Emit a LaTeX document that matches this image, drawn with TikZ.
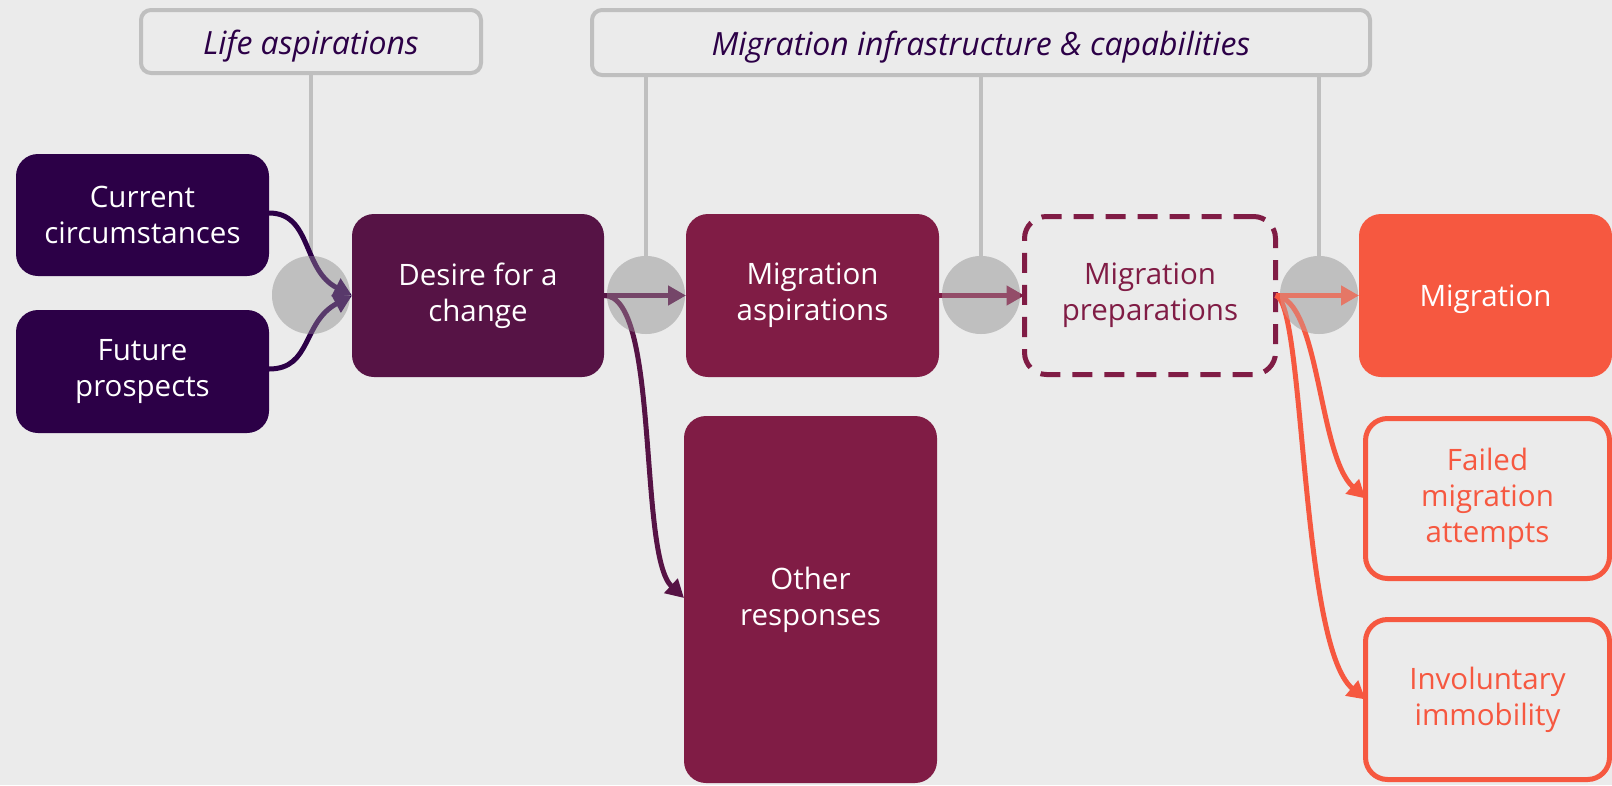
\documentclass[tikz,border=0pt]{standalone}
\usepackage{fontspec}
\setmainfont{Open Sans}
\usetikzlibrary{arrows.meta}
\definecolor{bg}{HTML}{EBEBEB}
\definecolor{ink}{HTML}{2C0047}
\definecolor{plum}{HTML}{561345}
\definecolor{wine}{HTML}{801C45}
\definecolor{coral}{HTML}{F65840}
\definecolor{grayc}{HTML}{BFBFBF}

\begin{document}
\begin{tikzpicture}[x=1pt, y=-1pt,
	box/.style={rounded corners=22pt, inner sep=0pt, outer sep=0pt, align=center,
		text=white, minimum width=253pt, minimum height=163pt,
		font=\fontsize{29.5}{36}\selectfont, execute at begin node={\rule{0pt}{30pt}}},
	head/.style={draw=grayc, line width=4pt, fill=bg, rounded corners=10pt, inner sep=0pt,
		outer sep=0pt, text=ink, font=\itshape\fontsize{32}{34}\selectfont,
		execute at begin node={\rule{0pt}{33pt}}},
	dot/.style={circle, fill=grayc, minimum size=78pt, inner sep=0pt},
	arr/.style={line width=5pt, -{Triangle[length=18pt,width=19pt]}},
	]
	\useasboundingbox (0,0) rectangle (1612,785);
	\fill[bg] (0,0) rectangle (1612,785);

	% headers
	\node[head, minimum width=340pt, minimum height=63pt] (life) at (311,41.5) {Life aspirations};
	\node[head, minimum width=778pt, minimum height=65pt] (infra) at (981,42.5) {Migration infrastructure \& capabilities};

	% junctions
	\node[dot] (c1) at (311,295) {};
	\node[dot] (c2) at (646,295) {};
	\node[dot] (c3) at (981,295) {};
	\node[dot] (c4) at (1319,295) {};
	\draw[grayc, line width=4.5pt] (life.south) -- (c1.center);
	\foreach \c in {c2,c3,c4}
		\draw[grayc, line width=4.5pt] (\c |- infra.south) -- (\c.center);

	% boxes
	\node[box, fill=ink, minimum height=122pt] (cur) at (142.5,215) {Current\\circumstances};
	\node[box, fill=ink, minimum height=123pt] (fut) at (142.5,371.5) {Future\\prospects};
	\node[box, fill=plum, minimum width=252pt] (desire) at (478,295.5) {Desire for a\\change};
	\node[box, fill=wine] (aspir) at (812.5,295.5) {Migration\\aspirations};
	\node[box, draw=wine, line width=5pt, dash pattern=on 20pt off 12pt, text=wine,
		minimum width=251pt, minimum height=158pt] (prep) at (1150,295.5) {Migration\\preparations};
	\node[box, fill=coral] (migr) at (1485.5,295.5) {Migration};
	\node[box, draw=coral, line width=5pt, text=coral, minimum width=244pt,
		minimum height=160pt] (failed) at (1487.5,498.5) {Failed\\migration\\attempts};
	\node[box, draw=coral, line width=5pt, text=coral, minimum width=244pt,
		minimum height=160pt] (invol) at (1487.5,699.5) {Involuntary\\immobility};
	\node[box, fill=wine, minimum height=367pt] (other) at (810.5,599.5) {Other\\responses};

	% arrows
	\draw[arr, ink] (cur.east |- 0,213) .. controls (312,213) and (302,270) .. (desire.west);
	\draw[arr, ink] (fut.east |- 0,369) .. controls (312,369) and (302,322) .. (desire.west);
	\draw[arr, plum] (desire.east) -- (aspir.west);
	\draw[arr, plum] (desire.east) .. controls (660,295) and (638,555) .. (other.west |- 0,598);
	\draw[arr, wine] (aspir.east) -- (prep.west);
	\draw[arr, coral] (prep.east) -- (migr.west);
	\draw[arr, coral] (prep.east) .. controls (1320,300) and (1318,455) .. (failed.west);
	\draw[arr, coral] (prep.east) .. controls (1305,300) and (1300,645) .. (invol.west);

	% veil over the junctions
	\foreach \c in {c1,c2,c3,c4}
		\fill[grayc, fill opacity=0.3] (\c) circle (39pt);
\end{tikzpicture}
\end{document}
